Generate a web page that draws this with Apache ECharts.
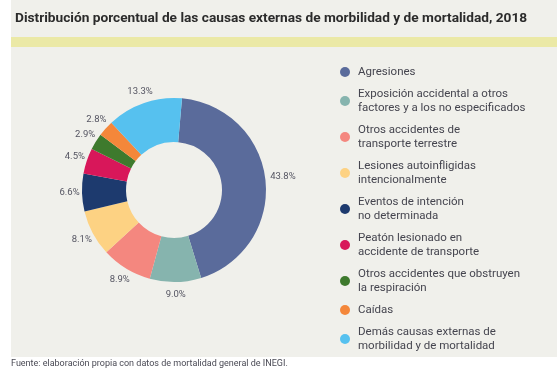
<!DOCTYPE html>
<html>
<head>
<meta charset="utf-8">
<script src="https://cdn.jsdelivr.net/npm/echarts@6/dist/echarts.min.js"></script>
<style>
  html, body { margin: 0; padding: 0; background: #ffffff; }
  #main { width: 557px; height: 376px; }
</style>
</head>
<body>
<div id="main"></div>
<script>
// causas externas, 2018
var causas = [
    'Agresiones',
    'Exposición accidental a otros\nfactores y a los no especificados',
    'Otros accidentes de\ntransporte terrestre',
    'Lesiones autoinfligidas\nintencionalmente',
    'Eventos de intención\nno determinada',
    'Peatón lesionado en\naccidente de transporte',
    'Otros accidentes que obstruyen\nla respiración',
    'Caídas',
    'Demás causas externas de\nmorbilidad y de mortalidad'
];
var porcentajes = [43.8, 9.0, 8.9, 8.1, 6.6, 4.5, 2.9, 2.8, 13.3];
var colores = ['#5a6b9b', '#86b4ae', '#f4877f', '#fdd283', '#1d3a6e', '#d8175a', '#3e7a2d', '#f4873a', '#56c1ef'];

var FONT = 'Roboto';

var datos = [];
var etiquetas = [];
for (var i = 0; i < causas.length; i++) {
    datos.push({ name: causas[i], value: porcentajes[i], itemStyle: { color: colores[i] } });
    etiquetas.push({ name: causas[i], value: porcentajes[i] });
}
// la etiqueta del lado derecho va un poco más afuera
etiquetas[0].label = { offset: [5, -2] };

var chart = echarts.init(document.getElementById('main'));
chart.setOption({
    backgroundColor: '#ffffff',
    textStyle: { fontFamily: FONT },
    graphic: [
        { type: 'rect', z: -10, shape: { x: 11, y: 0, width: 546, height: 357 }, style: { fill: '#f0f0eb' } },
        { type: 'rect', z: -9, shape: { x: 11, y: 37, width: 546, height: 10 }, style: { fill: '#ebe9a6' } },
        {
            type: 'text', left: 11, top: 359,
            style: { text: 'Fuente: elaboración propia con datos de mortalidad general de INEGI.', fill: '#4a4a55', font: '9px ' + FONT }
        }
    ],
    title: {
        text: 'Distribución porcentual de las causas externas de morbilidad y de mortalidad, 2018',
        left: 10, top: 7,
        textStyle: { fontSize: 13.7, fontWeight: 'bold', color: '#2b2b2b', fontFamily: FONT }
    },
    legend: {
        orient: 'vertical',
        left: 335, top: 60,
        icon: 'circle',
        itemWidth: 10, itemHeight: 10,
        itemGap: 8,
        textStyle: { fontSize: 11.5, lineHeight: 14, color: '#45454f', fontFamily: FONT, padding: [0, 0, 0, 3] },
        data: causas
    },
    series: [{
        type: 'pie',
        center: [174, 190],
        radius: [48, 92],
        startAngle: 85,
        clockwise: true,
        silent: true,
        label: { show: false },
        labelLine: { show: false },
        data: datos
    }, {
        // anillo invisible que sólo lleva las etiquetas
        type: 'pie',
        center: [174, 190],
        radius: [92, 111],
        startAngle: 85,
        clockwise: true,
        silent: true,
        itemStyle: { color: 'rgba(0,0,0,0)' },
        label: {
            show: true,
            position: 'inside',
            formatter: function (p) { return p.value.toFixed(1) + '%'; },
            fontSize: 9.5,
            color: '#555562',
            fontFamily: FONT
        },
        labelLine: { show: false },
        data: etiquetas
    }]
});
</script>
</body>
</html>
